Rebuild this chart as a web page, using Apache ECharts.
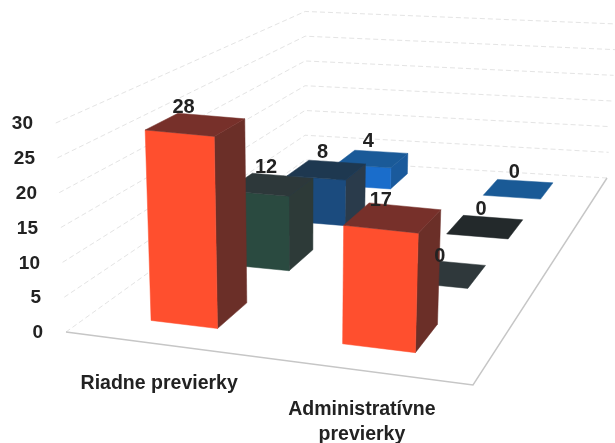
<!DOCTYPE html>
<html>
<head>
<meta charset="utf-8">
<style>html,body{margin:0;padding:0;background:#fff}#chart{width:615px;height:443px}</style>
<script src="https://cdn.jsdelivr.net/npm/echarts@6/dist/echarts.min.js"></script>
</head>
<body>
<div id="chart"></div>
<script>
// Inspection counts per category, one array per depth row (front to back).
var categories = ['Riadne previerky', 'Administratívne\nprevierky'];
var rowValues = [
  [28, 17],
  [12, 0],
  [8, 0],
  [4, 0]
];
var yTicks = [0, 5, 10, 15, 20, 25, 30];

// Face colours per depth row; zero-height bars show as flat plates.
var frontColors = ['#ff4f2e', '#2a4a40', '#1b4b7e', '#1a6dcb'];
var sideColors  = ['#6b2f28', '#2d3a38', '#2a3b4b', '#1a5a9c'];
var topColors   = ['#77302a', '#2d383a', '#1e3850', '#1a5a98'];
var plateColors = ['#77302a', '#2f383b', '#23292b', '#1a5a96'];

// Right-hand end of each value-axis label relative to the zero label.
var labelInset = {0: 0, 5: 2, 10: 3, 15: 5, 20: 6, 25: 8, 30: 10};

// Floor plane: corners of the perspective quad, front-left first, counter-clockwise.
var floor = [[66, 332], [473, 385], [607, 178], [305, 160]];
var H = (function () {
  var p = floor;
  var dx1 = p[1][0] - p[2][0], dx2 = p[3][0] - p[2][0], dx3 = p[0][0] - p[1][0] + p[2][0] - p[3][0];
  var dy1 = p[1][1] - p[2][1], dy2 = p[3][1] - p[2][1], dy3 = p[0][1] - p[1][1] + p[2][1] - p[3][1];
  var det = dx1 * dy2 - dx2 * dy1;
  var g = (dx3 * dy2 - dx2 * dy3) / det;
  var h = (dx1 * dy3 - dx3 * dy1) / det;
  return {
    a: p[1][0] - p[0][0] + g * p[1][0], b: p[3][0] - p[0][0] + h * p[3][0], c: p[0][0],
    d: p[1][1] - p[0][1] + g * p[1][1], e: p[3][1] - p[0][1] + h * p[3][1], f: p[0][1],
    g: g, h: h
  };
})();
var vanishX = 300, vanishY = 4800;

// Maps floor position (u across, d into depth) plus a pixel height measured at the front edge.
function project(u, d, px) {
  var w = 1 + H.g * u + H.h * d;
  var x = (H.a * u + H.b * d + H.c) / w;
  var y = (H.d * u + H.e * d + H.f) / w;
  var lift = px / (1 + H.h * d - 0.05 * u);
  return [x - lift * (vanishX - x) / vanishY, y - lift];
}

// Bar footprint: half extents per category, depth centre per row,
// and the sideways drift of each category as its rows recede.
var barHalfWidths = [0.09, 0.086];
var barHalfDepth = 0.055;
var rowDepths = [0.135, 0.4, 0.65, 0.89];
var catOffsets = [0, -0.003];
var catDrifts = [0.055, 0.023];

function poly(points, fill) {
  return { type: 'polygon', shape: { points: points }, style: { fill: fill, stroke: fill, lineWidth: 0.5 } };
}

function barSpot(params, api, cat, row) {
  var rect = params.coordSys;
  var d = rowDepths[row];
  var u = (api.coord([cat, 0])[0] - rect.x) / rect.width + catOffsets[cat] + catDrifts[cat] * d;
  return { u: u, d: d };
}

// Draw order runs from the back row forward so nearer bars cover farther ones.
var barData = [];
for (var r = rowValues.length - 1; r >= 0; r--) {
  for (var c = 0; c < categories.length; c++) {
    barData.push([c, rowValues[r][c], r]);
  }
}

function renderBar(params, api) {
  var cat = api.value(0), val = api.value(1), row = api.value(2);
  var spot = barSpot(params, api, cat, row);
  var px = api.coord([cat, 0])[1] - api.coord([cat, val])[1];
  var hw = barHalfWidths[cat];
  var u0 = spot.u - hw, u1 = spot.u + hw, d0 = spot.d - barHalfDepth, d1 = spot.d + barHalfDepth;
  var fbl = project(u0, d0, 0), fbr = project(u1, d0, 0), bbr = project(u1, d1, 0);
  var ftl = project(u0, d0, px), ftr = project(u1, d0, px), btr = project(u1, d1, px), btl = project(u0, d1, px);
  var children = [];
  if (val > 0) {
    children.push(poly([fbr, bbr, btr, ftr], sideColors[row]));
    children.push(poly([fbl, fbr, ftr, ftl], frontColors[row]));
    children.push(poly([ftl, ftr, btr, btl], topColors[row]));
  } else {
    children.push(poly([ftl, ftr, btr, btl], plateColors[row]));
  }
  return { type: 'group', children: children };
}

// Value labels sit above every bar, on top of all faces.
function renderValue(params, api) {
  var cat = api.value(0), val = api.value(1), row = api.value(2);
  var spot = barSpot(params, api, cat, row);
  var px = api.coord([cat, 0])[1] - api.coord([cat, val])[1];
  var mid = project(spot.u, spot.d, px);
  return {
    type: 'text',
    style: {
      text: String(val),
      x: mid[0] + (row === 0 ? -12 : -4),
      y: mid[1] - 17,
      fill: '#222', fontFamily: 'Liberation Sans', fontWeight: 'bold', fontSize: 20,
      align: 'center', verticalAlign: 'middle'
    }
  };
}

// Gridlines on the left and back walls, plus the floor outline at value zero.
function renderWall(params, api) {
  var px = api.coord([0, 0])[1] - api.coord([0, api.value(1)])[1];
  var base = api.value(1) === 0;
  var a = project(0, 0, px), b = project(0, 1, px), c = project(1, 1, px);
  var style = { stroke: '#e4e4e4', lineWidth: 1, lineDash: [5, 3], fill: null };
  var children = [
    { type: 'polyline', shape: { points: [a, b, c] }, style: style }
  ];
  if (base) {
    children.push({
      type: 'polyline',
      shape: { points: [project(0, 0, 0), project(1, 0, 0), project(1, 1, 0)] },
      style: { stroke: '#c6c6c6', lineWidth: 1.4, fill: null }
    });
  }
  return { type: 'group', children: children };
}

function renderCategory(params, api) {
  var cat = api.value(0);
  var rect = params.coordSys;
  var u = (api.coord([cat, 0])[0] - rect.x) / rect.width;
  var p = project(u, 0, 0);
  return {
    type: 'text',
    style: {
      text: categories[cat], x: p[0] + 2, y: p[1] + 27,
      fill: '#222', fontFamily: 'Liberation Sans', fontWeight: 'bold', fontSize: 19.5,
      lineHeight: 25, align: 'center', verticalAlign: 'top'
    }
  };
}

var rich = {};
yTicks.forEach(function (t) {
  rich['t' + t] = {
    padding: [0, labelInset[t], 0, 0],
    fontFamily: 'Liberation Sans', fontWeight: 'bold', fontSize: 19, color: '#222'
  };
});

var chart = echarts.init(document.getElementById('chart'), null, { renderer: 'canvas' });
chart.setOption({
  animation: false,
  backgroundColor: '#fff',
  grid: { left: 66, width: 407, top: 124, height: 209, containLabel: false },
  xAxis: {
    type: 'category', data: categories,
    axisLine: { show: false }, axisTick: { show: false }, axisLabel: { show: false }, splitLine: { show: false }
  },
  yAxis: {
    type: 'value', min: 0, max: 30, interval: 5,
    axisLine: { show: false }, axisTick: { show: false }, splitLine: { show: false },
    axisLabel: {
      margin: 23, align: 'right', rich: rich,
      formatter: function (v) { return '{t' + v + '|' + v + '}'; }
    }
  },
  series: [
    { type: 'custom', silent: true, clip: false, renderItem: renderWall, data: yTicks.map(function (t) { return [0, t]; }), encode: { x: 0, y: 1 }, z: 1 },
    { type: 'custom', silent: true, clip: false, renderItem: renderBar, data: barData, encode: { x: 0, y: 1 }, z: 2 },
    { type: 'custom', silent: true, clip: false, renderItem: renderValue, data: barData, encode: { x: 0, y: 1 }, z: 3 },
    { type: 'custom', silent: true, clip: false, renderItem: renderCategory, data: categories.map(function (n, i) { return [i, 0]; }), encode: { x: 0, y: 1 }, z: 3 }
  ]
});
</script>
</body>
</html>
